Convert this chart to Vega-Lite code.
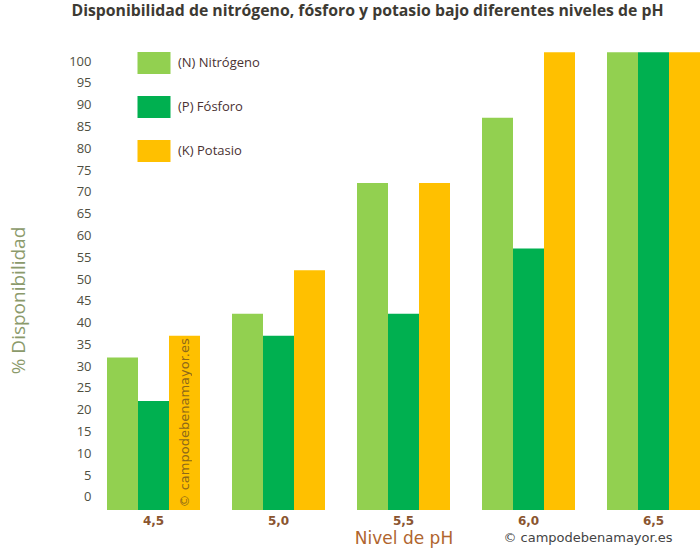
{
  "$schema": "https://vega.github.io/schema/vega-lite/v6.json",
  "width": 593,
  "height": 462,
  "autosize": {"type": "none"},
  "padding": {"left": 107, "top": 48, "right": 0, "bottom": 40},
  "background": "white",
  "title": {
    "text": "Disponibilidad de nitrógeno, fósforo y potasio bajo diferentes niveles de pH",
    "font": "Open Sans",
    "fontSize": 15.8,
    "fontWeight": "bold",
    "color": "#3d3a33",
    "anchor": "middle",
    "frame": "group",
    "dx": -36,
    "offset": 28
  },
  "data": {
    "values": [
      {"ph": "4,5", "nutrient": "(N) Nitrógeno", "value": 32},
      {"ph": "4,5", "nutrient": "(P) Fósforo", "value": 22},
      {"ph": "4,5", "nutrient": "(K) Potasio", "value": 37},
      {"ph": "5,0", "nutrient": "(N) Nitrógeno", "value": 42},
      {"ph": "5,0", "nutrient": "(P) Fósforo", "value": 37},
      {"ph": "5,0", "nutrient": "(K) Potasio", "value": 52},
      {"ph": "5,5", "nutrient": "(N) Nitrógeno", "value": 72},
      {"ph": "5,5", "nutrient": "(P) Fósforo", "value": 42},
      {"ph": "5,5", "nutrient": "(K) Potasio", "value": 72},
      {"ph": "6,0", "nutrient": "(N) Nitrógeno", "value": 87},
      {"ph": "6,0", "nutrient": "(P) Fósforo", "value": 57},
      {"ph": "6,0", "nutrient": "(K) Potasio", "value": 102},
      {"ph": "6,5", "nutrient": "(N) Nitrógeno", "value": 102},
      {"ph": "6,5", "nutrient": "(P) Fósforo", "value": 102},
      {"ph": "6,5", "nutrient": "(K) Potasio", "value": 102}
    ]
  },
  "encoding": {
    "y": {
      "field": "value",
      "type": "quantitative",
      "scale": {"domain": [-3, 103], "nice": false, "zero": false},
      "axis": {
        "values": [0, 5, 10, 15, 20, 25, 30, 35, 40, 45, 50, 55, 60, 65, 70, 75, 80, 85, 90, 95, 100],
        "labelOverlap": false,
        "ticks": false,
        "domain": false,
        "grid": false,
        "labelPadding": 16,
        "labelFont": "Open Sans",
        "labelFontSize": 13,
        "labelColor": "#4f4f3f",
        "title": "% Disponibilidad",
        "titleFont": "Open Sans",
        "titleFontSize": 19,
        "titleFontWeight": "normal",
        "titleColor": "#8b9a6b",
        "titleBaseline": "middle",
        "titleAlign": "center",
        "titleX": -89,
        "titleY": 252
      }
    }
  },
  "layer": [
    {
      "mark": {"type": "bar"},
      "encoding": {
        "x": {
          "field": "ph",
          "type": "ordinal",
          "sort": ["4,5", "5,0", "5,5", "6,0", "6,5"],
          "scale": {"paddingInner": 0.256, "paddingOuter": 0},
          "axis": {
            "title": "Nivel de pH",
            "labelAngle": 0,
            "ticks": false,
            "domain": false,
            "grid": false,
            "labelPadding": 5,
            "labelFont": "DejaVu Sans",
            "labelFontWeight": "bold",
            "labelFontSize": 12,
            "labelColor": "#8a5530",
            "titleFont": "DejaVu Sans",
            "titleFontWeight": "normal",
            "titleFontSize": 17,
            "titleColor": "#b0652e",
            "titleBaseline": "middle",
            "titleY": 28
          }
        },
        "xOffset": {
          "field": "nutrient",
          "type": "nominal",
          "scale": {"domain": ["(N) Nitrógeno", "(P) Fósforo", "(K) Potasio"], "paddingInner": 0, "paddingOuter": 0}
        },
        "y2": {"datum": -3},
        "color": {
          "field": "nutrient",
          "type": "nominal",
          "scale": {
            "domain": ["(N) Nitrógeno", "(P) Fósforo", "(K) Potasio"],
            "range": ["#92d050", "#00b050", "#ffc000"]
          },
          "legend": {
            "orient": "none",
            "legendX": 36,
            "legendY": 4,
            "title": null,
            "padding": 0,
            "symbolType": "M-1.5,-1H1.5V1H-1.5Z",
            "symbolSize": 484,
            "symbolStrokeWidth": 0,
            "symbolOpacity": 1,
            "labelFont": "Open Sans",
            "labelFontSize": 13,
            "labelColor": "#4a3232",
            "labelOffset": 13,
            "rowPadding": 22
          }
        }
      }
    },
    {
      "data": {"values": [{"ph": "4,5", "nutrient": "(K) Potasio", "value": 17, "label": "© campodebenamayor.es"}]},
      "mark": {"type": "text", "angle": 270, "font": "DejaVu Sans", "fontSize": 13, "color": "#7a5a1e", "opacity": 0.85, "align": "center", "baseline": "middle"},
      "encoding": {
        "x": {"field": "ph", "type": "ordinal"},
        "xOffset": {"field": "nutrient", "type": "nominal"},
        "text": {"field": "label"}
      }
    },
    {
      "data": {"values": [{"ph": "6,5", "value": -9.4, "label": "© campodebenamayor.es"}]},
      "mark": {"type": "text", "font": "DejaVu Sans", "fontSize": 13, "color": "#444444", "align": "center", "baseline": "middle", "dx": -19},
      "encoding": {
        "x": {"field": "ph", "type": "ordinal", "bandPosition": 0},
        "text": {"field": "label"}
      }
    }
  ],
  "config": {"view": {"stroke": null}, "axisY": {"labelOverlap": false}}
}
